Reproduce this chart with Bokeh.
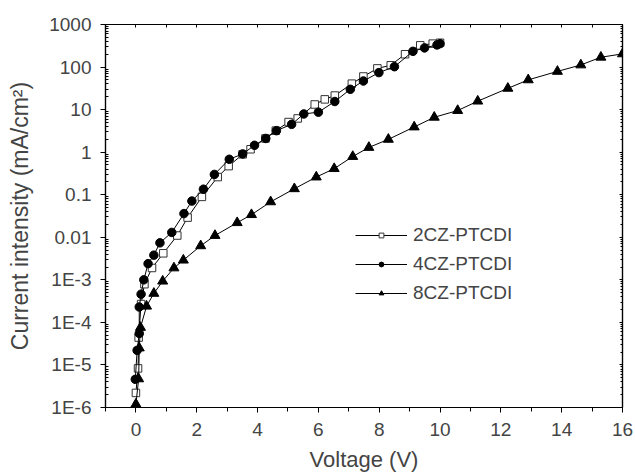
from bokeh.plotting import figure
from bokeh.models import (LinearAxis, LogAxis, FixedTicker, SingleIntervalTicker,
                          CustomJSTickFormatter, Legend, LegendItem, Range1d)
from bokeh.embed import file_html
from bokeh.resources import INLINE

# ---- data (Voltage in V, current density in mA/cm^2) ----
v_2cz = [0.00, 0.07, 0.09, 0.17, 0.28, 0.53, 0.90, 1.36, 1.70, 2.17, 2.69, 3.05, 3.51, 3.77,
         4.26, 4.60, 5.02, 5.32, 5.88, 6.21, 6.54, 7.10, 7.48, 7.94, 8.38, 8.85, 9.35, 9.76, 10.0]
j_2cz = [2.2e-6, 8.3e-6, 4.4e-5, 2.7e-4, 7.9e-4, 1.9e-3, 4.2e-3, 0.011, 0.029, 0.089, 0.26, 0.47,
         0.89, 1.17, 2.1, 3.2, 5.1, 6.2, 13.2, 17.4, 21.4, 40.7, 60, 93, 110, 200, 324, 355, 372]

v_4cz = [-0.02, 0.04, 0.11, 0.11, 0.17, 0.26, 0.40, 0.59, 0.79, 1.18, 1.58, 1.84, 2.22, 2.58,
         3.07, 3.51, 3.90, 4.27, 4.62, 5.12, 5.52, 6.00, 6.54, 7.05, 7.48, 7.99, 8.50, 9.11,
         9.49, 9.90, 10.0]
j_4cz = [4.6e-6, 2.2e-5, 5.5e-5, 2.3e-4, 4.6e-4, 1.0e-3, 2.4e-3, 3.8e-3, 7.4e-3, 0.013, 0.036,
         0.071, 0.135, 0.30, 0.68, 0.91, 1.45, 2.1, 3.2, 4.5, 7.9, 8.7, 15.5, 30, 47, 74, 102,
         234, 282, 331, 355]

v_8cz = [0.00, 0.09, 0.11, 0.15, 0.35, 0.59, 0.88, 1.25, 1.56, 2.13, 2.60, 3.33, 3.80, 4.43,
         5.21, 5.93, 6.52, 7.13, 7.66, 8.30, 9.15, 9.81, 10.58, 11.24, 12.23, 12.90, 13.86,
         14.63, 15.29, 16.00]
j_8cz = [1.2e-6, 4.7e-6, 2.5e-5, 7.6e-5, 2.4e-4, 4.8e-4, 9.3e-4, 1.9e-3, 2.9e-3, 6.3e-3, 0.011,
         0.022, 0.034, 0.068, 0.138, 0.26, 0.41, 0.79, 1.29, 2.0, 3.9, 6.6, 9.5, 15.8, 31.6,
         50, 79, 112, 170, 204]

series_names = ["2CZ-PTCDI", "4CZ-PTCDI", "8CZ-PTCDI"]
y_decades = [1e-6, 1e-5, 1e-4, 1e-3, 1e-2, 1e-1, 1, 10, 100, 1000]
y_tick_labels = ["1E-6", "1E-5", "1E-4", "1E-3", "0.01", "0.1", "1", "10", "100", "1000"]

FONT = "Liberation Sans"

p = figure(frame_width=517, frame_height=383, y_axis_type="log",
           x_range=Range1d(-1, 16), y_range=Range1d(1e-6, 1000),
           output_backend="svg", toolbar_location=None,
           min_border_left=105, min_border_right=13, min_border_top=24, min_border_bottom=67)
p.xgrid.visible = False
p.ygrid.visible = False
p.outline_line_color = "black"
p.outline_line_width = 1.2
p.background_fill_color = "white"
p.border_fill_color = "white"

minor = [k * d for d in y_decades[:-1] for k in range(2, 10)]
yticker = FixedTicker(ticks=y_decades, minor_ticks=minor)
xticker = SingleIntervalTicker(interval=2, num_minor_ticks=2)

# bottom x axis
xa = p.xaxis[0]
xa.ticker = xticker
xa.axis_label = "Voltage (V)"
xa.axis_label_text_font = FONT
xa.axis_label_text_font_style = "normal"
xa.axis_label_text_font_size = "22px"
xa.axis_label_standoff = 8
xa.major_label_text_font = FONT
xa.major_label_text_font_size = "19px"
xa.major_label_standoff = 10
xa.major_tick_out = 5
xa.major_tick_in = 0
xa.minor_tick_out = 4
xa.minor_tick_in = 0
xa.axis_line_width = 1.2

# left y axis
ya = p.yaxis[0]
ya.ticker = yticker
ya.formatter = CustomJSTickFormatter(args=dict(labels=y_tick_labels),
                                     code="return labels[Math.round(Math.log10(tick)) + 6];")
ya.axis_label = "Current intensity (mA/cm\u00b2)"
ya.axis_label_text_font = FONT
ya.axis_label_text_font_style = "normal"
ya.axis_label_text_font_size = "23px"
ya.axis_label_standoff = 13
ya.major_label_text_font = FONT
ya.major_label_text_font_size = "19px"
ya.major_label_standoff = 9
ya.major_tick_out = 5
ya.major_tick_in = 0
ya.minor_tick_out = 0
ya.minor_tick_in = 3
ya.axis_line_width = 1.2

# top and right frame axes (ticks only, no labels)
top = LinearAxis(ticker=SingleIntervalTicker(interval=1, num_minor_ticks=0),
                 formatter=CustomJSTickFormatter(code="return '';"), major_label_standoff=0,
                 major_tick_in=3, major_tick_out=0, minor_tick_in=0, minor_tick_out=0,
                 axis_line_width=1.2)
p.add_layout(top, "above")
right = LogAxis(ticker=yticker, formatter=CustomJSTickFormatter(code="return '';"),
                major_label_standoff=0,
                major_tick_in=3, major_tick_out=0, minor_tick_in=2, minor_tick_out=0,
                axis_line_width=1.2)
p.add_layout(right, "right")

# series
l1 = p.line(v_2cz, j_2cz, line_color="black", line_width=1)
s1 = p.scatter(v_2cz, j_2cz, marker="square", size=7.5, fill_color="white",
               line_color="#333333", line_width=1)
l2 = p.line(v_4cz, j_4cz, line_color="black", line_width=1)
s2 = p.scatter(v_4cz, j_4cz, marker="circle", size=8.5, fill_color="black", line_color="black")
l3 = p.line(v_8cz, j_8cz, line_color="black", line_width=1)
s3 = p.scatter(v_8cz, j_8cz, marker="triangle", size=10, fill_color="black", line_color="black")

legend = Legend(items=[LegendItem(label=series_names[0], renderers=[l1, s1]),
                       LegendItem(label=series_names[1], renderers=[l2, s2]),
                       LegendItem(label=series_names[2], renderers=[l3, s3])],
                location=(248, 98), orientation="vertical",
                glyph_width=52, glyph_height=12, label_height=29, spacing=0,
                label_standoff=6, padding=2, margin=0,
                label_text_font=FONT, label_text_font_size="19px",
                border_line_alpha=0, background_fill_alpha=0)
p.add_layout(legend)

open("out.html", "w").write(file_html(p, INLINE))
